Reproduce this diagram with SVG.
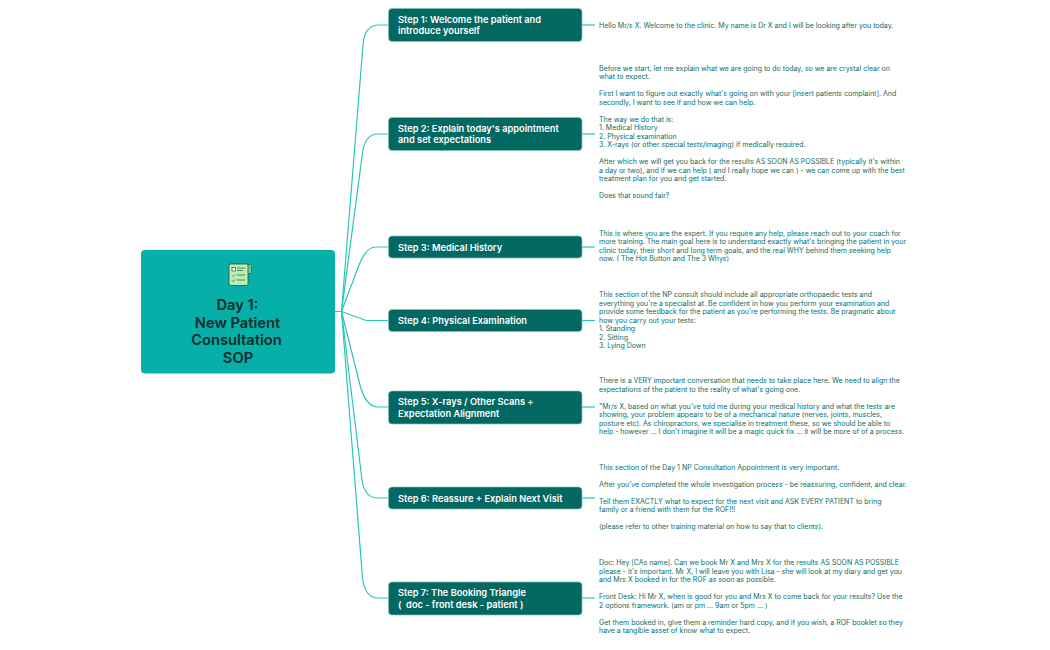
<svg xmlns="http://www.w3.org/2000/svg" width="1050" height="650" viewBox="0 0 1050 650">
<style>
.root{fill:#06b0a8}
.step{fill:#046862;stroke:#7fc4bf;stroke-width:.7}
.t{font-family:Inter,"Noto Sans","Liberation Sans",sans-serif}
.rt{font-size:14.7px;font-weight:600;fill:#0b2b2a;text-anchor:middle}
.st{font-size:9.25px;font-weight:600;fill:#fff;white-space:pre}
.dt{font-size:7px;fill:#0b6d64;opacity:.99}
.c{fill:none;stroke:#2cc4bb;stroke-width:1.2}
</style>
<rect width="1050" height="650" fill="#fff"/>
<g id="connectors">
<path class="c" d="M335 311.500H341.500L363 45Q364.500 25 379 25H388.500"/>
<path class="c" d="M341.500 311.500L362.500 153Q365 134 378 134H388.500"/>
<path class="c" d="M341.500 311.500L359 265Q366 247 376 247H388.500"/>
<path class="c" d="M341.500 311.500L366 320.500H388.500"/>
<path class="c" d="M341.500 311.500L360 385Q366 407 378 407H388.500"/>
<path class="c" d="M341.500 311.500L362 480Q364.500 498 378 498H388.500"/>
<path class="c" d="M341.500 311.500L362.500 578Q365 598 378 598H388.500"/>
<path class="c" d="M582 25H595"/>
<path class="c" d="M582 134H595"/>
<path class="c" d="M582 247H595"/>
<path class="c" d="M582 320.500H595"/>
<path class="c" d="M582 407H595"/>
<path class="c" d="M582 498H595"/>
<path class="c" d="M582 598H595"/>
</g>
<g id="root">
<rect class="root" x="141" y="250" width="194" height="123.500" rx="4"/>
<g id="root-icon">
<rect x="238" y="264.500" width="13.500" height="9" rx="1" fill="#7fc98f" stroke="#27504a" stroke-width=".6"/>
<rect x="229" y="264" width="19" height="21.500" rx="1.500" fill="#b8f0b4" stroke="#27504a" stroke-width=".8"/>
<rect x="232" y="267.500" width="3.500" height="3.500" fill="#fff" stroke="#27504a" stroke-width=".7"/>
<path d="M237 268H245M237 270.500H243M237 275H245M237 280H245M232 275.500l1 1 2-2M232 280.500l1 1 2-2" fill="none" stroke="#27504a" stroke-width=".7"/>
</g>
<text class="t rt"><tspan x="237.500" y="310">Day 1:</tspan><tspan x="237.500" y="327.500">New Patient</tspan><tspan x="236.500" y="345">Consultation</tspan><tspan x="238" y="362.500">SOP</tspan></text>
</g>
<g id="step1"><rect class="step" x="388.500" y="8.500" width="193.500" height="33" rx="3.500"/><text class="t st"><tspan x="398" y="22.500">Step 1: Welcome the patient and</tspan><tspan x="398" y="34">introduce yourself</tspan></text></g>
<g id="step2"><rect class="step" x="388.500" y="117.500" width="193.500" height="33" rx="3.500"/><text class="t st"><tspan x="398" y="131.500">Step 2: Explain today's appointment</tspan><tspan x="398" y="143">and set expectations</tspan></text></g>
<g id="step3"><rect class="step" x="388.500" y="236" width="193.500" height="22" rx="3.500"/><text class="t st" x="398" y="250.500">Step 3: Medical History</text></g>
<g id="step4"><rect class="step" x="388.500" y="309.500" width="193.500" height="22" rx="3.500"/><text class="t st" x="398" y="324">Step 4: Physical Examination</text></g>
<g id="step5"><rect class="step" x="388.500" y="391" width="193.500" height="33" rx="3.500"/><text class="t st"><tspan x="398" y="405">Step 5: X-rays / Other Scans +</tspan><tspan x="398" y="416.500">Expectation Alignment</tspan></text></g>
<g id="step6"><rect class="step" x="388.500" y="487" width="193.500" height="22" rx="3.500"/><text class="t st" x="398" y="501.500">Step 6: Reassure + Explain Next Visit</text></g>
<g id="step7"><rect class="step" x="388.500" y="582" width="193.500" height="33" rx="3.500"/><text class="t st"><tspan x="398" y="596">Step 7: The Booking Triangle</tspan><tspan x="398" y="607.500">(  doc - front desk - patient )</tspan></text></g>
<g id="detail1"><text class="t dt" x="599" y="27.500">Hello Mr/s X. Welcome to the clinic. My name is Dr X and I will be looking after you today.</text></g>
<g id="detail2"><text class="t dt">
<tspan x="599" y="70.500">Before we start, let me explain what we are going to do today, so we are crystal clear on</tspan>
<tspan x="599" y="79">what to expect.</tspan>
<tspan x="599" y="96">First I want to figure out exactly what's going on with your [insert patients complaint]. And</tspan>
<tspan x="599" y="104.500">secondly, I want to see if and how we can help.</tspan>
<tspan x="599" y="121.500">The way we do that is:</tspan>
<tspan x="599" y="130">1. Medical History</tspan>
<tspan x="599" y="138.500">2. Physical examination</tspan>
<tspan x="599" y="147">3. X-rays (or other special tests/imaging) if medically required.</tspan>
<tspan x="599" y="164">After which we will get you back for the results AS SOON AS POSSIBLE (typically it's within</tspan>
<tspan x="599" y="172.500">a day or two), and if we can help ( and I really hope we can ) - we can come up with the best</tspan>
<tspan x="599" y="181">treatment plan for you and get started.</tspan>
<tspan x="599" y="198">Does that sound fair?</tspan>
</text></g>
<g id="detail3"><text class="t dt">
<tspan x="599" y="235.500">This is where you are the expert. If you require any help, please reach out to your coach for</tspan>
<tspan x="599" y="244">more training. The main goal here is to understand exactly what's bringing the patient in your</tspan>
<tspan x="599" y="252.500">clinic today, their short and long term goals, and the real WHY behind them seeking help</tspan>
<tspan x="599" y="261">now. ( The Hot Button and The 3 Whys)</tspan>
</text></g>
<g id="detail4"><text class="t dt">
<tspan x="599" y="297">This section of the NP consult should include all appropriate orthopaedic tests and</tspan>
<tspan x="599" y="305.500">everything you're a specialist at. Be confident in how you perform your examination and</tspan>
<tspan x="599" y="314">provide some feedback for the patient as you're performing the tests. Be pragmatic about</tspan>
<tspan x="599" y="322.500">how you carry out your tests:</tspan>
<tspan x="599" y="331">1. Standing</tspan>
<tspan x="599" y="339.500">2. Sitting</tspan>
<tspan x="599" y="348">3. Lying Down</tspan>
</text></g>
<g id="detail5"><text class="t dt">
<tspan x="599" y="383">There is a VERY important conversation that needs to take place here. We need to align the</tspan>
<tspan x="599" y="391.500">expectations of the patient to the reality of what's going one.</tspan>
<tspan x="599" y="408.500">"Mr/s X, based on what you've told me during your medical history and what the tests are</tspan>
<tspan x="599" y="417">showing, your problem appears to be of a mechanical nature (nerves, joints, muscles,</tspan>
<tspan x="599" y="425.500">posture etc). As chiropractors, we specialise in treatment these, so we should be able to</tspan>
<tspan x="599" y="434">help - however ... I don't imagine it will be a magic quick fix ... it will be more of of a process.</tspan>
</text></g>
<g id="detail6"><text class="t dt">
<tspan x="599" y="469.500">This section of the Day 1 NP Consultation Appointment is very important.</tspan>
<tspan x="599" y="486.500">After you've completed the whole investigation process - be reassuring, confident, and clear.</tspan>
<tspan x="599" y="503.500">Tell them EXACTLY what to expect for the next visit and ASK EVERY PATIENT to bring</tspan>
<tspan x="599" y="512">family or a friend with them for the ROF!!!</tspan>
<tspan x="599" y="529">(please refer to other training material on how to say that to clients).</tspan>
</text></g>
<g id="detail7"><text class="t dt">
<tspan x="599" y="565">Doc: Hey [CAs name]. Can we book Mr X and Mrs X for the results AS SOON AS POSSIBLE</tspan>
<tspan x="599" y="573.500">please - it's important. Mr X, I will leave you with Lisa - she will look at my diary and get you</tspan>
<tspan x="599" y="582">and Mrs X booked in for the ROF as soon as possible.</tspan>
<tspan x="599" y="599">Front Desk: Hi Mr X, when is good for you and Mrs X to come back for your results? Use the</tspan>
<tspan x="599" y="607.500">2 options framework. (am or pm ... 9am or 5pm ... )</tspan>
<tspan x="599" y="624.500">Get them booked in, give them a reminder hard copy, and if you wish, a ROF booklet so they</tspan>
<tspan x="599" y="633">have a tangible asset of know what to expect.</tspan>
</text></g>
</svg>
